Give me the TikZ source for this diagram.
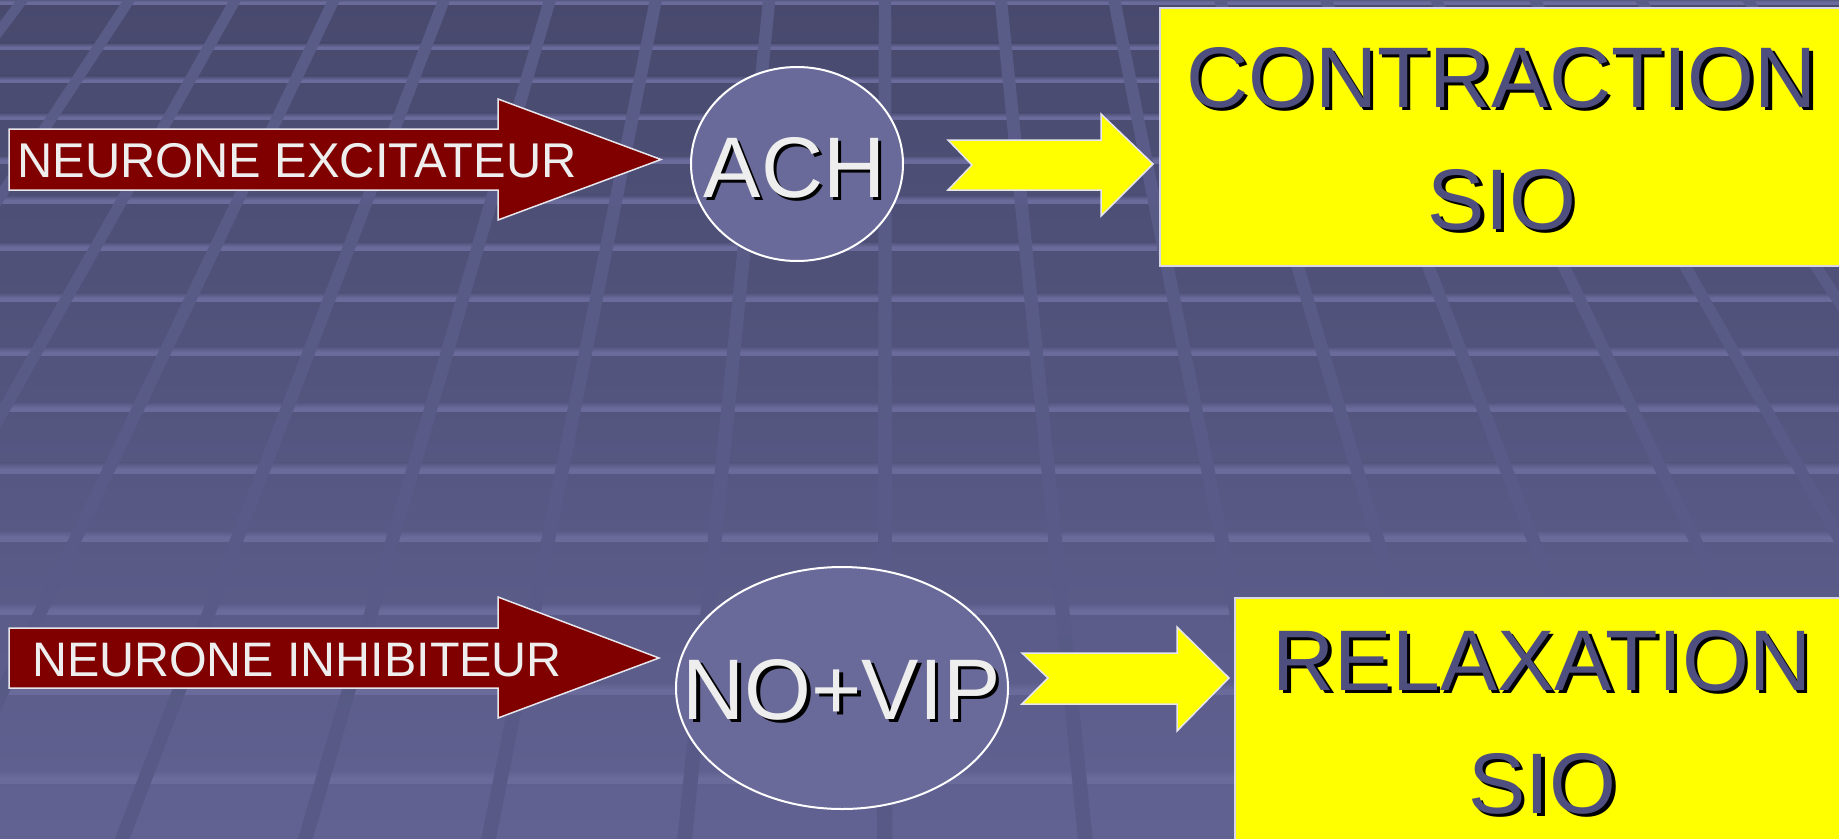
\documentclass[tikz,border=0pt]{standalone}
\usepackage{fontspec}
\setmainfont{Liberation Sans}
\usetikzlibrary{shapes.geometric}

\definecolor{bgtop}{RGB}{72,73,109}
\definecolor{bgmid}{RGB}{86,87,128}
\definecolor{bgbot}{RGB}{97,98,146}
\definecolor{stripe}{RGB}{106,107,155}
\definecolor{linetop}{RGB}{90,92,136}
\definecolor{linemid}{RGB}{80,81,121}
\definecolor{linebot}{RGB}{88,89,134}
\definecolor{maroon}{RGB}{128,0,0}
\definecolor{lemon}{RGB}{255,255,0}
\definecolor{outline}{RGB}{230,230,236}
\definecolor{boxedge}{RGB}{215,215,230}
\definecolor{bubble}{RGB}{106,106,154}
\definecolor{slate}{RGB}{79,79,127}
\definecolor{paper}{RGB}{238,238,238}

\tikzset{
  redarrow/.style={fill=maroon, draw=outline, line width=1.5pt, line join=miter},
  yelarrow/.style={fill=lemon, draw=outline, line width=1.5pt, line join=miter},
  resultbox/.style={rectangle, fill=lemon, draw=boxedge, line width=2pt, inner sep=0pt, anchor=north west},
  bubblestyle/.style={ellipse, fill=bubble, draw=white, line width=2pt, inner sep=0pt},
  smalltext/.style={font=\fontsize{48.8}{58}\selectfont, text=paper, anchor=base, inner sep=0pt},
  bigtext/.style={font=\fontsize{86}{100}\selectfont, anchor=base, inner sep=0pt},
  dropshadow/.style={bigtext, text=black},
}

\begin{document}
\begin{tikzpicture}[x=1pt, y=-1pt]
\useasboundingbox (0,0) rectangle (1839,838);
\clip (0,0) rectangle (1839,838);

% floor: vertical gradient
\shade[top color=bgtop, middle color=bgmid, bottom color=bgbot] (0,0) rectangle (1839,838);

% horizontal tile joints, each with a soft glow above it (thicker further down)
\foreach \ys in {2,47,80,117,160,200,247,298,352,408,469,537,610,690,778} {
  \pgfmathsetmacro\solid{3+3*\ys/838}
  \pgfmathsetmacro\glow{4+4*\ys/838}
  \pgfmathtruncatemacro\t{\ys/8.38}
  \colorlet{loc}{bgbot!\t!bgtop}
  \shade[top color=loc, bottom color=stripe] (0,\ys-\glow) rectangle (1839,\ys);
  \fill[stripe] (0,\ys) rectangle (1839,\ys+\solid);
}

% receding joints converging towards a point above the floor
\foreach \d in {-1180,-1050,-920,-791,-671,-537,-408,-279,-141,0,141,279,408,537,671,791,920,1050,1180} {
  \shade[top color=linetop, middle color=linemid, bottom color=linebot]
    ({885+\d*0.8143-6.2},-10) -- ({885+\d*0.8143+6.2},-10)
    -- ({885+\d*1.4286+7.4},850) -- ({885+\d*1.4286-7.4},850) -- cycle;
}

% ---------- excitatory pathway ----------
\draw[redarrow] (9,129) -- (498,129) -- (498,99) -- (661,159.5) -- (498,220)
  -- (498,190) -- (9,190) -- cycle;
\node[smalltext] (exc) at (297,177) {NEURONE EXCITATEUR};

\node[bubblestyle, minimum width=212pt, minimum height=194pt] (ach) at (797,164) {};
\node[dropshadow] at (797.5,200) {ACH};
\node[bigtext, text=paper] (achtxt) at (794.5,197) {ACH};

\draw[yelarrow] (948,140) -- (1101,140) -- (1101,114) -- (1153,164) -- (1101,216)
  -- (1101,190) -- (948,190) -- (972,165) -- cycle;

\node[resultbox, minimum width=691pt, minimum height=258pt] (contr) at (1159,7) {};
\node[dropshadow] at (1505,110) {CONTRACTION};
\node[bigtext, text=slate] (contrtxt) at (1501.5,107) {CONTRACTION};
\node[dropshadow] at (1505.5,232) {SIO};
\node[bigtext, text=slate] (siotop) at (1502,229) {SIO};

% ---------- inhibitory pathway ----------
\draw[redarrow] (9,628) -- (498,628) -- (498,597) -- (659,658) -- (498,718)
  -- (498,688) -- (9,688) -- cycle;
\node[smalltext, font=\fontsize{48.4}{58}\selectfont] (inh) at (297,676) {NEURONE INHIBITEUR};

\node[bubblestyle, minimum width=332pt, minimum height=242pt] (novip) at (842,688) {};
\node[dropshadow] at (845,722) {NO+VIP};
\node[bigtext, text=paper] (novipttxt) at (841.5,719) {NO+VIP};

\draw[yelarrow] (1022,653) -- (1177,653) -- (1177,627) -- (1229,678) -- (1177,731)
  -- (1177,704) -- (1022,704) -- (1048,678) -- cycle;

\node[resultbox, minimum width=616pt, minimum height=253pt] (relax) at (1234,597) {};
\node[dropshadow] at (1545.5,693) {RELAXATION};
\node[bigtext, text=slate] (relaxtxt) at (1542,690) {RELAXATION};
\node[dropshadow] at (1546,816) {SIO};
\node[bigtext, text=slate] (siobot) at (1542.5,813) {SIO};
\end{tikzpicture}
\end{document}
